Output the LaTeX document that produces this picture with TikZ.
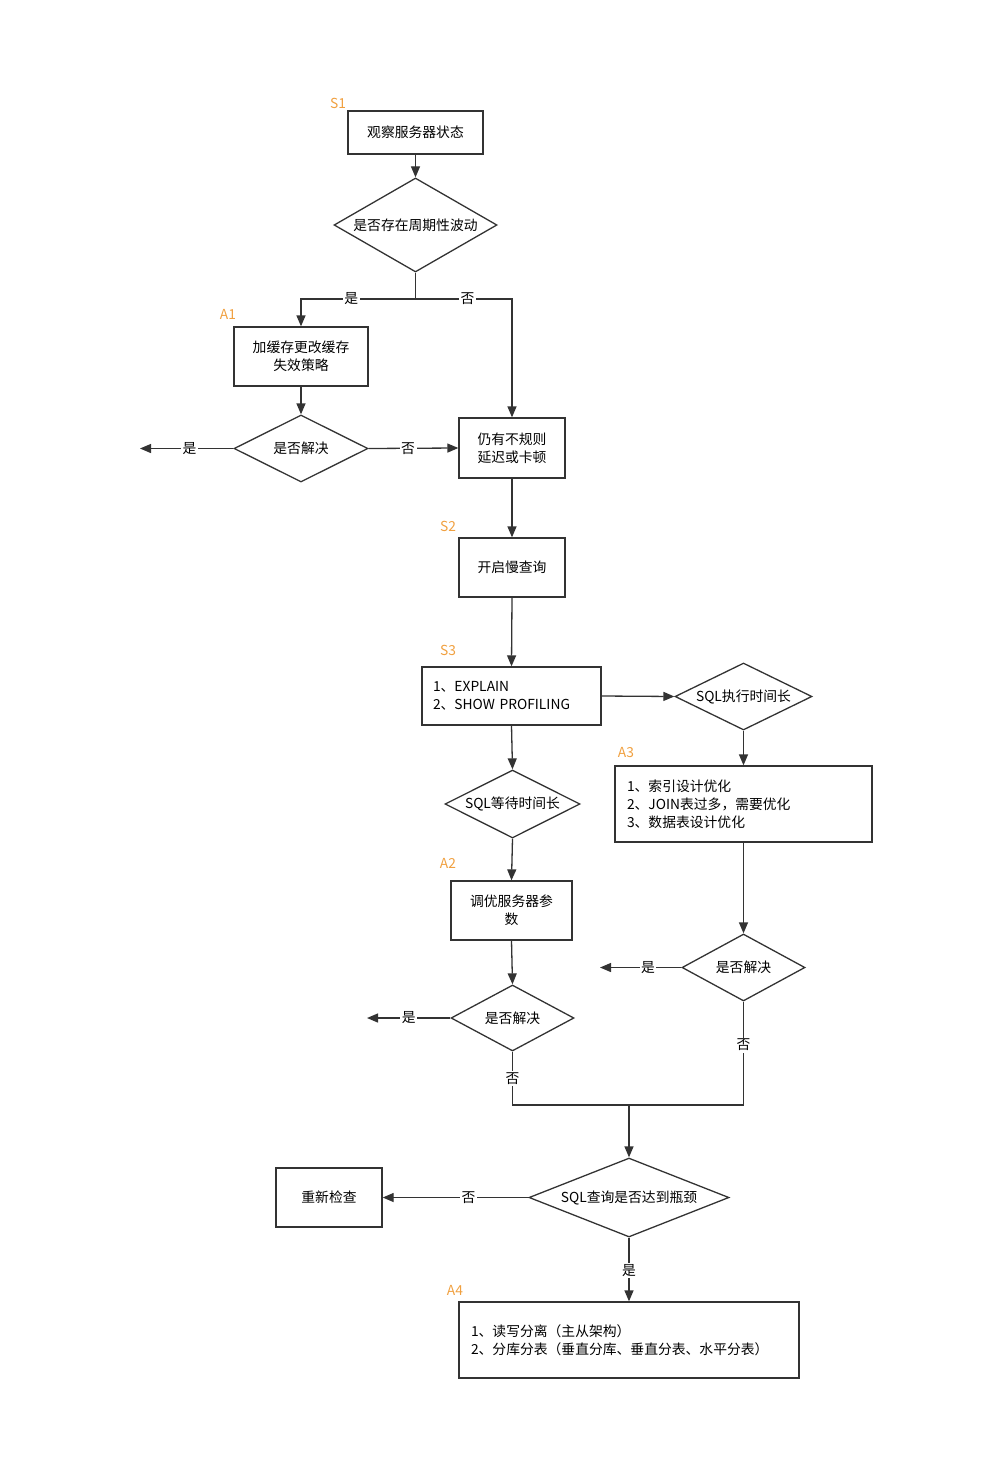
\documentclass[tikz,border=0pt]{standalone}
\usepackage{fontspec}
\setmainfont{Noto Sans CJK SC}
\usetikzlibrary{shapes.geometric,arrows.meta}
\definecolor{lnc}{HTML}{333333}
\definecolor{orgc}{HTML}{F0A040}
\newcommand{\fsz}{\fontsize{13.8pt}{18pt}\selectfont}
\begin{document}
\begin{tikzpicture}[x=1pt,y=-1pt,
  box/.style={draw=lnc, line width=1.3pt, inner sep=0pt, align=center, font=\fsz, text=black},
  lbox/.style={draw=lnc, line width=1.3pt, inner ysep=0pt, inner xsep=11pt, align=left, font=\fsz, text=black},
  dia/.style={diamond, draw=lnc, line width=1.3pt, inner sep=0pt, align=center, font=\fsz, text=black},
  arr/.style={draw=lnc, line width=1.3pt, -{Triangle[length=11pt,width=9pt]}},
  conn/.style={draw=lnc, line width=1.3pt},
  lbl/.style={fill=white, inner sep=1.5pt, font=\fsz, text=black},
  tag/.style={font=\fsz, text=orgc}]
\path[use as bounding box] (0,0) rectangle (999,1458);
% tags
\node[tag] (tS1) at (338,103) {S1};
\node[tag] (tA1) at (228,314) {A1};
\node[tag] (tS2) at (448,526) {S2};
\node[tag] (tS3) at (448,650) {S3};
\node[tag] (tA3) at (626,753) {A3};
\node[tag] (tA2) at (448,863) {A2};
\node[tag] (tA4) at (455,1290) {A4};
% nodes
\node[box, minimum width=135pt, minimum height=43pt] (b1) at (415.5,132.5) {观察服务器状态};
\node[dia, aspect=1.73, minimum width=163pt, minimum height=94pt] (d1) at (415.5,225) {是否存在周期性波动};
\node[box, minimum width=134pt, minimum height=59pt] (a1) at (301,356.5) {加缓存更改缓存\\失效策略};
\node[dia, aspect=2, minimum width=134pt, minimum height=67pt] (r1) at (301,448.5) {是否解决};
\node[box, minimum width=106pt, minimum height=60pt] (b2) at (512,448) {仍有不规则\\延迟或卡顿};
\node[box, minimum width=106pt, minimum height=59pt] (b3) at (512,567.5) {开启慢查询};
\node[lbox, text width=157pt, minimum height=58pt] (b4) at (511.5,696) {1、EXPLAIN\\2、SHOW PROFILING};
\node[dia, aspect=2.04, minimum width=137pt, minimum height=67pt] (d3) at (743.5,696.5) {SQL执行时间长};
\node[lbox, inner xsep=12pt, text width=233pt, minimum height=76pt] (a3) at (743.5,804) {1、索引设计优化\\2、JOIN表过多，需要优化\\3、数据表设计优化};
\node[dia, aspect=1.84, minimum width=123pt, minimum height=67pt] (r3) at (743.5,967.5) {是否解决};
\node[dia, aspect=1.98, minimum width=135pt, minimum height=68pt] (d2) at (512.5,804) {SQL等待时间长};
\node[box, minimum width=121pt, minimum height=59pt] (a2) at (511.5,910.5) {调优服务器参\\数};
\node[dia, aspect=1.86, minimum width=123pt, minimum height=66pt] (r2) at (512.5,1018) {是否解决};
\node[dia, aspect=2.53, minimum width=200pt, minimum height=79pt] (d4) at (629,1197.5) {SQL查询是否达到瓶颈};
\node[box, minimum width=106pt, minimum height=59pt] (rc) at (329,1197.5) {重新检查};
\node[lbox, inner xsep=12pt, text width=316pt, minimum height=76pt] (a4) at (629,1340) {1、读写分离（主从架构）\\2、分库分表（垂直分库、垂直分表、水平分表）};
% coordinates
\coordinate (j1) at (415.5,299);
\coordinate (e1) at (140,448.5);
\coordinate (e3) at (600,967.5);
\coordinate (e2) at (367,1018);
\coordinate (j2) at (629,1105);
% connectors
\draw[arr] (b1.south) -- (d1.north);
\draw[conn] (d1.south) -- (j1);
\draw[arr] (j1) -| node[lbl, pos=0.28] (l1) {是} (a1.north);
\draw[arr] (j1) -| node[lbl, pos=0.27] (l2) {否} (b2.north);
\draw[arr] (a1.south) -- (r1.north);
\draw[arr] (r1.west) -- node[lbl, pos=0.47] (l3) {是} (e1);
\draw[arr] (r1.east) -- node[lbl, pos=0.44] (l4) {否} (b2.west);
\draw[arr] (b2.south) -- (b3.north);
\draw[arr] (b3.south) -- (b4.north);
\draw[arr] (b4.east) -- (d3.west);
\draw[arr] (d3.south) -- (a3.north);
\draw[arr] (a3.south) -- (r3.north);
\draw[arr] (r3.west) -- node[lbl, pos=0.41] (l5) {是} (e3);
\draw[arr] (b4.south) -- (d2.north);
\draw[arr] (d2.south) -- (a2.north);
\draw[arr] (a2.south) -- (r2.north);
\draw[arr] (r2.west) -- node[lbl, pos=0.5] (l6) {是} (e2);
\draw[conn] (r2.south) |- node[lbl, pos=0.25] (l7) {否} (j2);
\draw[conn] (r3.south) |- node[lbl, pos=0.21] (l8) {否} (j2);
\draw[arr] (j2) -- (d4.north);
\draw[arr] (d4.west) -- node[lbl, pos=0.41] (l9) {否} (rc.east);
\draw[arr] (d4.south) -- node[lbl, pos=0.52] (l10) {是} (a4.north);
\end{tikzpicture}
\end{document}
